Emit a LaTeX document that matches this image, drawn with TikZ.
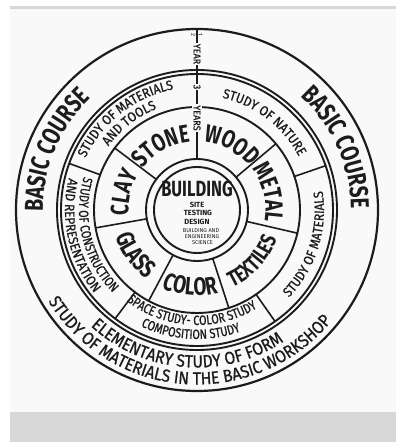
\documentclass[tikz,border=0pt]{standalone}
\usepackage{fontspec}
\setmainfont{Fira Sans}
\newfontfamily\bhNarrow{Fira Sans}[FakeStretch=0.75]
\newfontfamily\bhText{Fira Sans}[FakeStretch=0.9, FakeBold=0.8]
\newfontfamily\bhTight{Fira Sans}[FakeStretch=0.8, FakeBold=0.8]
\usepackage{tikz}
\usetikzlibrary{decorations.text}
\definecolor{bhInk}{HTML}{1E1B1C}
\definecolor{bhPaper}{HTML}{F9F9F9}
\definecolor{bhBand}{HTML}{D7D7D7}
\newcommand\fCourse{\bhNarrow\bfseries\fontsize{26}{26}\selectfont}
\newcommand\fCraft{\bhNarrow\bfseries\fontsize{25}{25}\selectfont}
\newcommand\fCraftS{\bhNarrow\bfseries\fontsize{22}{22}\selectfont}
\newcommand\fStudy{\bhText\fontsize{13.5}{13.5}\selectfont}
\newcommand\fStudyN{\bhTight\fontsize{13.5}{13.5}\selectfont}
\newcommand\fBase{\bhText\fontsize{17.5}{17.5}\selectfont}
\tikzset{
  bh diagram/.style={x=1pt, y=1pt, line cap=round, line join=round},
  bh ring/.style={draw=bhInk, line width=1.9pt},
  bh rule/.style={draw=bhInk, line width=1.6pt},
  bh year/.style={font=\bhText\fontsize{10}{10}\selectfont, text=bhInk,
    rotate=-90, fill=bhPaper, inner sep=1pt},
  bh half/.style={font=\fontsize{6}{6}\selectfont, text=bhInk, rotate=-90,
    inner sep=0pt},
  bh core/.style={font=\bhNarrow\bfseries\fontsize{22}{22}\selectfont,
    text=bhInk, inner sep=0pt},
  bh core sub/.style={font=\bfseries\fontsize{7.5}{7.5}\selectfont,
    text=bhInk, inner sep=0pt},
  bh core note/.style={font=\fontsize{5.6}{5.6}\selectfont, text=bhInk,
    inner sep=0pt}
}
% text round the centre C: clockwise (tops out) and counter-clockwise (tops in)
\newcommand\bhCw[4]{\path[decorate, decoration={text along path,
    text align=center, text color=bhInk, text={|#3|#4}}]
  (C) ++(#2+80:#1) arc[start angle=#2+80, end angle=#2-80, radius=#1];}
\newcommand\bhCcw[4]{\path[decorate, decoration={text along path,
    text align=center, text color=bhInk, text={|#3|#4}}]
  (C) ++(#2-80:#1) arc[start angle=#2-80, end angle=#2+80, radius=#1];}

\begin{document}
\begin{tikzpicture}[bh diagram]
\useasboundingbox (0,0) rectangle (396,442);
\fill[white] (0,0) rectangle (396,442);
\fill[bhPaper] (10,30) rectangle (396,433);
\fill[bhBand] (10,433) rectangle (396,436);
\fill[bhBand] (10,0) rectangle (396,30);
\coordinate (C) at (197,232);
% rings
\draw[bh ring, line width=2.2pt] (C) circle[radius=181];
\foreach \r in {140,136,103,51,43} \draw[bh ring] (C) circle[radius=\r];
% dividers
\draw[bh rule] (C) ++(90:181) -- ++(0,-130);
\foreach \a in {160,19,-55,-127} \draw[bh rule] (C) ++(\a:103) -- ++(\a:33);
\foreach \a in {143,40,-13,-72,-118,-170} \draw[bh rule] (C) ++(\a:51) -- ++(\a:52);
% years on the vertical rule
\node[bh half] (half2) at (193.5,407) {2};
\node[bh half] (half1) at (200.5,407) {1};
\node[bh year] (year) at (197,388) {YEAR};
\node[bh year] (three) at (197,355) {3};
\node[bh year] (years) at (197,324) {YEARS};
% outer band
\bhCw{154}{157}{\fCourse}{BASIC COURSE}
\bhCw{154}{24}{\fCourse}{BASIC COURSE}
\bhCcw{157.5}{-94.5}{\fBase}{ELEMENTARY STUDY OF FORM}
\bhCcw{174.5}{-94}{\fBase}{STUDY OF MATERIALS IN THE BASIC WORKSHOP}
% studies
\bhCw{123}{128}{\fStudy}{STUDY OF MATERIALS}
\bhCw{109}{128}{\fStudy}{AND TOOLS}
\bhCw{115}{52.5}{\fStudy}{STUDY OF NATURE}
\bhCcw{127}{-17.5}{\fStudy}{STUDY OF MATERIALS}
\bhCcw{115}{-93}{\fStudyN}{SPACE STUDY- COLOR STUDY}
\bhCcw{129}{-93}{\fStudyN}{COMPOSITION STUDY}
\bhCcw{118}{194}{\fStudyN}{STUDY OF CONSTRUCTION}
\bhCcw{132}{192.5}{\fStudy}{AND REPRESENTATION}
% workshops
\bhCw{68.5}{119}{\fCraft}{STONE}
\bhCw{68.5}{62}{\fCraft}{WOOD}
\bhCw{68.5}{13.5}{\fCraft}{METAL}
\bhCcw{85}{-42.5}{\fCraftS}{TEXTILES}
\bhCcw{85.5}{-95}{\fCraft}{COLOR}
\bhCcw{85.5}{-144}{\fCraft}{GLASS}
\bhCw{68.5}{166.5}{\fCraft}{CLAY}
% core
\node[bh core] (building) at (197,253) {BUILDING};
\node[bh core sub] (site) at (197,237) {SITE};
\node[bh core sub] (testing) at (198,229.5) {TESTING};
\node[bh core sub] (design) at (197,220) {DESIGN};
\node[bh core note] (science1) at (201,211.5) {BUILDING AND};
\node[bh core note] (science2) at (202,205.5) {ENGINEERING};
\node[bh core note] (science3) at (202.5,199.5) {SCIENCE};
\end{tikzpicture}
\end{document}
